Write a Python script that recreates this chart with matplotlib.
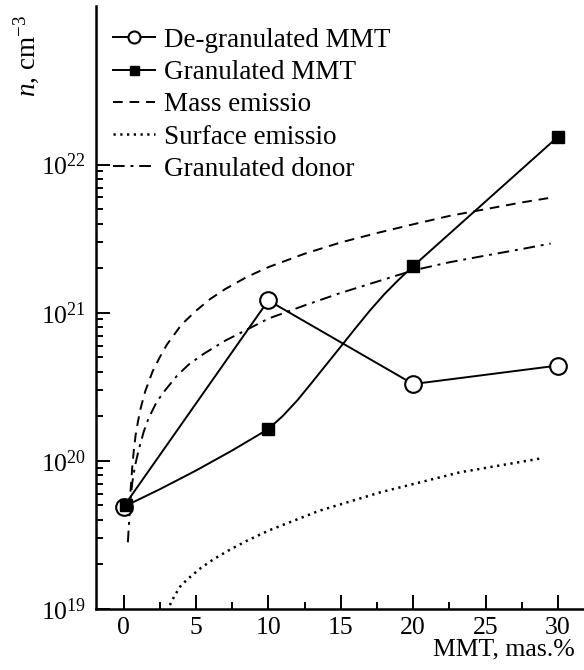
import matplotlib

matplotlib.use("Agg")
import matplotlib.pyplot as plt
from matplotlib.ticker import FixedLocator, MultipleLocator, NullFormatter

plt.rcParams["font.family"] = ["Liberation Serif", "DejaVu Serif"]
plt.rcParams["mathtext.fontset"] = "custom"
plt.rcParams["mathtext.rm"] = "Liberation Serif"
plt.rcParams["mathtext.it"] = "Liberation Serif:italic"

# measured points
degran_x = [0, 10, 20, 30]
degran_n = [4.9e19, 1.21e21, 3.3e20, 4.4e20]

gran_x = [0.2, 10, 20, 30]
gran_n = [5.0e19, 1.64e20, 2.06e21, 1.54e22]
# the connecting line is a smooth curve up to 20
gran_line_x = [0.2, 2.5, 5, 7.5, 10, 11, 12, 13, 14, 15, 16, 17, 18, 19, 20, 30]
gran_line_n = [5.0e19, 6.43e19, 8.6e19, 1.175e20, 1.64e20, 2.01e20, 2.56e20, 3.37e20,
               4.46e20, 5.9e20, 7.82e20, 1.03e21, 1.33e21, 1.67e21, 2.06e21, 1.54e22]

# model curves
mass_x = [0.48, 0.6, 0.7, 0.83, 1.0, 1.2, 1.5, 2.0, 2.5, 3.0, 4.0, 5.0, 6.0, 7.0, 8.5,
          10, 12.5, 15, 17.5, 20, 22.5, 25, 27.5, 29.4]
mass_n = [6.2e19, 9.0e19, 1.15e20, 1.48e20, 1.85e20, 2.3e20, 2.95e20, 4.0e20, 5.0e20, 6.1e20,
          8.3e20, 1.03e21, 1.24e21, 1.44e21, 1.74e21, 2.03e21, 2.5e21, 2.98e21, 3.45e21,
          3.95e21, 4.5e21, 5.0e21, 5.55e21, 5.95e21]

surf_x = [3.2, 3.5, 3.9, 4.4, 5.3, 6.2, 7.3, 8.6, 10.1, 13.5, 17.7, 23.2, 28.9]
surf_n = [1.064e19, 1.216e19, 1.413e19, 1.585e19, 1.879e19, 2.163e19, 2.5e19, 2.917e19,
          3.41e19, 4.6e19, 6.12e19, 8.36e19, 1.042e20]

donor_x = [0.3, 0.45, 0.6, 0.8, 1.06, 1.4, 1.74, 2.3, 2.9, 3.7, 4.5, 5.5, 7.0, 8.5, 10,
           12.5, 15, 17.5, 20, 22.5, 25, 27.5, 29.5]
donor_n = [2.82e19, 5.0e19, 7.08e19, 9.33e19, 1.2e20, 1.58e20, 1.95e20, 2.51e20, 3.02e20,
           3.76e20, 4.47e20, 5.25e20, 6.46e20, 7.67e20, 9.12e20, 1.12e21, 1.36e21, 1.62e21,
           1.93e21, 2.19e21, 2.43e21, 2.69e21, 2.93e21]

y_major = [1e19, 1e20, 1e21, 1e22]

fig = plt.figure(figsize=(5.84, 6.70), dpi=100)
ax = fig.add_axes([0.1644, 0.091, 0.8356, 0.9])

lw = 1.4
ax.plot(mass_x, mass_n, ls=(0, (5, 3.5)), color="k", lw=lw, label="Mass emissio")
ax.plot(surf_x, surf_n, ls=(0, (0.9, 1.8)), color="k", lw=1.8, label="Surface emissio")
ax.plot(donor_x, donor_n, ls=(0, (6, 3, 1.5, 3)), color="k", lw=lw, label="Granulated donor")

ax.plot(degran_x, degran_n, "-o", color="k", lw=lw, ms=12, mfc="white", mec="k", mew=1.5,
        label="De-granulated MMT", zorder=5)
ax.plot(gran_line_x, gran_line_n, "-", color="k", lw=lw, zorder=5)
ax.plot(gran_x, gran_n, "s", color="k", ms=9, zorder=6)
ax.plot([], [], "-s", color="k", lw=lw, ms=9, label="Granulated MMT")

ax.set_yscale("log")
ax.set_xlim(-1.9, 31.8)
ax.set_ylim(1e19, 10 ** 23.07)

ax.xaxis.set_major_locator(MultipleLocator(5))
ax.xaxis.set_minor_locator(MultipleLocator(2.5))
ax.yaxis.set_major_locator(FixedLocator(y_major))
ax.yaxis.set_minor_locator(FixedLocator([m * d for d in y_major[:-1] for m in range(2, 10)]))
ax.yaxis.set_minor_formatter(NullFormatter())

for s in ("top", "right"):
    ax.spines[s].set_visible(False)
for s in ("left", "bottom"):
    ax.spines[s].set_linewidth(1.8)

ax.tick_params(which="both", direction="in", labelsize=18.5, width=1.4)
ax.tick_params(which="major", length=10)
ax.tick_params(which="minor", length=5)
ax.tick_params(axis="x", pad=6)
ax.tick_params(axis="y", pad=7)

handles, labels = ax.get_legend_handles_labels()
order = ["De-granulated MMT", "Granulated MMT", "Mass emissio", "Surface emissio", "Granulated donor"]
hmap = dict(zip(labels, handles))
ax.legend([hmap[k] for k in order], order, loc="upper left",
          bbox_to_anchor=(0.012, 0.982), frameon=False, fontsize=19.5,
          handlelength=1.55, handletextpad=0.33, labelspacing=0.27,
          markerscale=0.72, borderaxespad=0)

fig.text(0.985, 0.03, "MMT, mas.%", ha="right", va="center", fontsize=18.5)
fig.text(0.045, 0.978, r"$n$, cm$^{-3}$", ha="center", va="top", rotation=90, fontsize=19.5)

fig.savefig("out.png", dpi=100)
